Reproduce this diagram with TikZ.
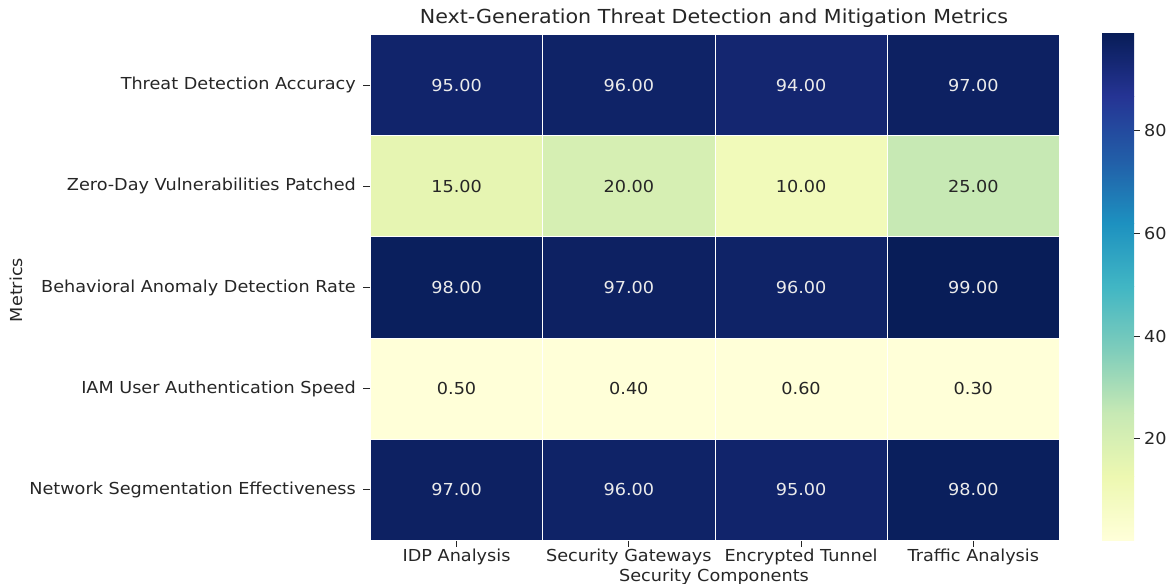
\documentclass[tikz,border=0pt]{standalone}
\usepackage{fontspec}
\setmainfont{DejaVu Sans}[FakeStretch=1.07]
\begin{document}
\begin{tikzpicture}[x=1pt,y=-1pt,
  cell/.style={draw=white,line width=0.9pt,minimum width=172.25pt,minimum height=101.2pt,inner sep=0pt,anchor=north west},
  darkv/.style={text=black!8,font=\fontsize{16.5}{18}\selectfont},
  lightv/.style={text=black!85,font=\fontsize{16.5}{18}\selectfont},
  ticklab/.style={text=black!85,font=\fontsize{16.5}{18}\selectfont,inner sep=0pt},
  tickline/.style={draw=black!85,line width=0.8pt}]
\useasboundingbox (0,0) rectangle (1171,584);
% colours (YlGnBu, vmin 0.3, vmax 99)
\definecolor{v94}{RGB}{20,38,112}
\definecolor{v95}{RGB}{17,36,107}
\definecolor{v96}{RGB}{15,35,103}
\definecolor{v97}{RGB}{13,33,98}
\definecolor{v98}{RGB}{10,31,93}
\definecolor{v99}{RGB}{8,29,88}
\definecolor{v15}{RGB}{230,245,178}
\definecolor{v20}{RGB}{214,239,179}
\definecolor{v10}{RGB}{241,250,186}
\definecolor{v25}{RGB}{199,233,180}
\definecolor{vlow}{RGB}{255,255,216}
\definecolor{cb0}{RGB}{255,255,217}
\definecolor{cb1}{RGB}{237,248,177}
\definecolor{cb2}{RGB}{199,233,180}
\definecolor{cb3}{RGB}{127,205,187}
\definecolor{cb4}{RGB}{65,182,196}
\definecolor{cb5}{RGB}{29,145,192}
\definecolor{cb6}{RGB}{34,94,168}
\definecolor{cb7}{RGB}{37,52,148}
\definecolor{cb8}{RGB}{8,29,88}
% cells
\foreach \r/\row in {0/{v95/darkv/95.00,v96/darkv/96.00,v94/darkv/94.00,v97/darkv/97.00},
                     1/{v15/lightv/15.00,v20/lightv/20.00,v10/lightv/10.00,v25/lightv/25.00},
                     2/{v98/darkv/98.00,v97/darkv/97.00,v96/darkv/96.00,v99/darkv/99.00},
                     3/{vlow/lightv/0.50,vlow/lightv/0.40,vlow/lightv/0.60,vlow/lightv/0.30},
                     4/{v97/darkv/97.00,v96/darkv/96.00,v95/darkv/95.00,v98/darkv/98.00}}{
  \foreach \col/\sty/\val [count=\c from 0] in \row {
    \node[cell,fill=\col] (c\r\c) at ({370+172.25*\c},{34+101.2*\r}) {};
    \node[\sty] (t\r\c) at (c\r\c.center) {\val};
  }
}
% y tick labels
\foreach \r/\lab in {0/Threat Detection Accuracy,1/Zero-Day Vulnerabilities Patched,2/Behavioral Anomaly Detection Rate,3/IAM User Authentication Speed,4/Network Segmentation Effectiveness}{
  \coordinate (yt\r) at ([xshift=-7pt]c\r0.west);
  \draw[tickline] (c\r0.west) -- (yt\r);
  \node[ticklab,anchor=east] (yl\r) at ([xshift=-7pt]yt\r) {\lab};
}
% x tick labels
\foreach \c/\lab in {0/IDP Analysis,1/Security Gateways,2/Encrypted Tunnel,3/Traffic Analysis}{
  \coordinate (xt\c) at ([yshift=-6pt]c4\c.south);
  \draw[tickline] (c4\c.south) -- (xt\c);
  \node[ticklab] (xl\c) at ([yshift=-10.5pt]xt\c) {\lab};
}
% axis labels and title
\node[ticklab] (xlabel) at (714,576.5) {Security Components};
\node[ticklab,rotate=90] (ylabel) at (16,290) {Metrics};
\node[text=black!85,font=\fontsize{19.3}{22}\selectfont,inner sep=0pt] (title) at (714,18) {Next-Generation Threat Detection and Mitigation Metrics};
% colorbar
\foreach \i [evaluate=\i as \j using int(\i+1)] in {0,...,7}{
  \shade[bottom color=cb\i,top color=cb\j] (1102,{540-507/8*\i}) rectangle (1134,{540-507/8*(\i+1)+0.3});
}
\node[draw=none,minimum width=32pt,minimum height=507pt,inner sep=0pt,anchor=south west] (cbar) at (1102,540) {};
\foreach \v in {20,40,60,80}{
  \coordinate (cbt\v) at (1134,{540-(\v-0.3)/98.7*507});
  \coordinate (cbe\v) at ([xshift=6pt]cbt\v);
  \draw[tickline] (cbt\v) -- (cbe\v);
  \node[ticklab,anchor=west] (cbl\v) at ([xshift=4pt]cbe\v) {\v};
}
\end{tikzpicture}
\end{document}
